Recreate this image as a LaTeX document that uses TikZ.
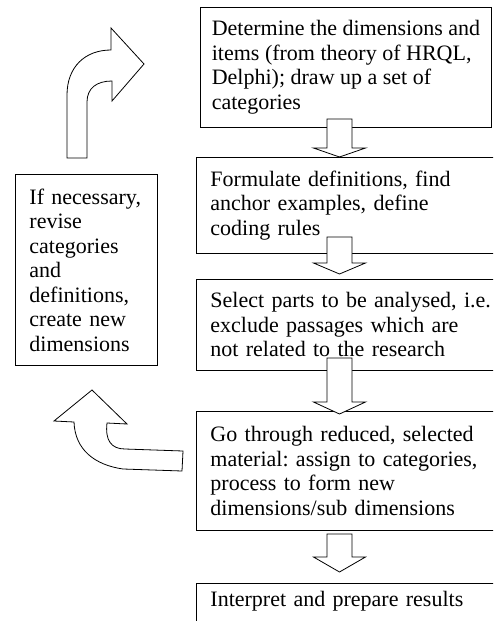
\documentclass[tikz,border=0pt]{standalone}
\usepackage{fontspec}
\setmainfont{Liberation Serif}
\usetikzlibrary{calc}
\frenchspacing
\newcommand\blockdown[5]{%
  \draw[blk] ($(#1.south -| ax)+(-12.5,{-(#3)})$) -- ($(#2.north -| ax)+(-12.5,{(#5)-(#4)})$) -- ++(-13.5,0)
    -- ($(#2.north -| ax)+(0,{#5})$) -- ($(#2.north -| ax)+(26,{(#5)-(#4)})$) -- ++(-13.5,0)
    -- ($(#1.south -| ax)+(12.5,{-(#3)})$) -- cycle;}
\begin{document}
\begin{tikzpicture}[x=1pt,y=-1pt,
  box/.style={draw,line width=0.9pt,anchor=north west,align=left,inner ysep=0pt,
    font=\fontsize{22}{24.5}\selectfont},
  rbox/.style={box,inner xsep=14pt,text width=282pt,minimum width=310pt},
  blk/.style={draw,fill=white,line width=0.8pt,line join=miter}]
\clip (0,0) rectangle (493,621);
\fill[white] (0,0) rectangle (493,621);
\coordinate (ax) at (339.5,0);
\node[box,inner xsep=0pt,minimum width=291pt,minimum height=120pt] (b1) at (200,7)
  {Determine the dimensions and\\items (from theory of HRQL,\\Delphi); draw up a set of\\categories};
\node[rbox,minimum height=96pt] (b2) at (196,157)
  {Formulate definitions, find\\anchor examples, define\\coding rules};
\node[rbox,minimum height=91pt] (b3) at (196,279)
  {Select parts to be analysed, i.e.\\exclude passages which are\\not related to the research};
\node[rbox,minimum height=119pt] (b4) at (196,411)
  {Go through reduced, selected\\material: assign to categories,\\process to form new\\dimensions/sub dimensions};
\node[rbox,inner ysep=8pt,text height=15pt,text depth=60pt] (b5) at (196,583)
  {Interpret and prepare results};
\node[box,inner xsep=14pt,text width=114pt,minimum width=142pt,minimum height=191pt] (L) at (15,174)
  {If necessary,\\revise\\categories\\and\\definitions,\\create new\\dimensions};
\blockdown{b1}{b2}{9}{9}{0}
\blockdown{b2}{b3}{17}{11}{-5}
\blockdown{b3}{b4}{13}{12}{3}
\blockdown{b4}{b5}{-3}{15}{-11}
% curved arrow from L up to b1
\draw[blk] (67,158) -- (67,95) .. controls (67,67) and (85,50) .. (111,50) -- (111,28) -- (144,64)
  -- (112,101) -- (112,81) .. controls (97,81) and (87,88) .. (87,102) -- (87,158) -- cycle;
% curved arrow from b4 back to L
\draw[blk] (92,390) -- (127,424) -- (107,423) .. controls (105,440) and (111,449) .. (125,449)
  -- (183,451) -- (182,471) -- (123,469) .. controls (95,465) and (75,450) .. (74,422) -- (54,421) -- cycle;
\end{tikzpicture}
\end{document}
